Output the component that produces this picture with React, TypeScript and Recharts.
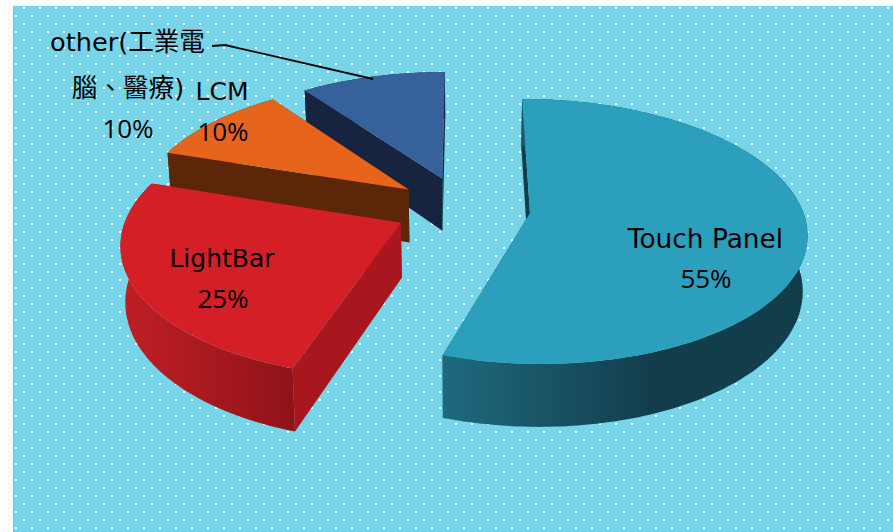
import { PieChart, Pie } from 'recharts';

const sliceNames = ['other(工業電腦、醫療)', 'LCM', 'LightBar', 'Touch Panel'];
const sliceValues = [10, 10, 25, 55];
const topColors = ['#37619a', '#e6641b', '#d51f27', '#2c9fbd'];
const sideColors = ['#16243f', '#5c2709', '#a8161e', '#123e4c'];
const rimFrom = ['#16243f', '#5c2709', '#c01f25', '#1f6a7e'];
const rimTo = ['#16243f', '#5c2709', '#8f1318', '#123e4c'];
const rimRange = [[300, 450], [160, 410], [120, 292], [443, 650]];

const pieData = sliceNames.map((name, i) => ({ name, value: sliceValues[i], index: i }));

// label rows per slice: [text, centre x, baseline y, font size, is percentage]
const labelRows: [string, number, number, number, boolean][][] = [
  [['other(工業電', 127.5, 51, 25.6, false], ['腦、醫療)', 128, 97, 25.6, false], ['10%', 128, 138, 26, true]],
  [['LCM', 222, 100, 25, false], ['10%', 223, 141, 26, true]],
  [['LightBar', 222, 267, 25, false], ['25%', 223, 308, 26, true]],
  [['Touch Panel', 705.5, 248, 26.4, false], ['55%', 706, 288, 26, true]],
];

const WIDTH = 893;
const HEIGHT = 532;
const CX = 462.5;
const CY = 208;
const RADIUS = 272;
const EXPLODE = 68;
const DEPTH = 54;
const HORIZON = 935; // distance from the pie centre up to the vanishing point
const PERSPECTIVE = 0.1375;
const VANISH_X = 465;
const BOTTOM_SHRINK = 0.986;

type Pt = [number, number];

// plane coordinates (x right, y toward the viewer) to screen, top or bottom face
function project(px: number, py: number, cx: number, cy: number, r: number, low: boolean): Pt {
  const s = 1 / (1 - (PERSPECTIVE * py) / r);
  const x = VANISH_X + (cx + px - VANISH_X) * s;
  const y = cy - HORIZON + HORIZON * s;
  if (!low) return [x, y];
  return [VANISH_X + (x - VANISH_X) * BOTTOM_SHRINK, y + DEPTH * s];
}

const toPath = (pts: Pt[]) =>
  'M' + pts.map((p) => p[0].toFixed(1) + ',' + p[1].toFixed(1)).join('L') + 'Z';

function Slice3D(props: any) {
  const { cx, cy, outerRadius: r, startAngle, endAngle, midAngle, payload } = props;
  const i = payload.index;
  const rad = Math.PI / 180;
  const ox = EXPLODE * Math.cos(midAngle * rad);
  const oy = -EXPLODE * Math.sin(midAngle * rad);

  const arc = (low: boolean) => {
    const pts: Pt[] = [];
    const n = Math.ceil(Math.abs(endAngle - startAngle));
    for (let k = 0; k <= n; k++) {
      const a = (startAngle + ((endAngle - startAngle) * k) / n) * rad;
      pts.push(project(ox + r * Math.cos(a), oy - r * Math.sin(a), cx, cy, r, low));
    }
    return pts;
  };
  const topArc = arc(false);
  const lowArc = arc(true);
  const apexTop = project(ox, oy, cx, cy, r, false);
  const apexLow = project(ox, oy, cx, cy, r, true);
  const last = topArc.length - 1;
  const gradId = `rim-${i}`;

  return (
    <g>
      <defs>
        <linearGradient id={gradId} gradientUnits="userSpaceOnUse" x1={rimRange[i][0]} x2={rimRange[i][1]} y1={0} y2={0}>
          <stop offset="0" stopColor={rimFrom[i]} />
          <stop offset="1" stopColor={rimTo[i]} />
        </linearGradient>
      </defs>
      <path d={toPath([apexTop, topArc[0], lowArc[0], apexLow])} fill={sideColors[i]} />
      <path d={toPath([apexTop, topArc[last], lowArc[last], apexLow])} fill={sideColors[i]} />
      <path d={toPath([...topArc, ...[...lowArc].reverse()])} fill={`url(#${gradId})`} />
      <path d={toPath([apexTop, ...topArc])} fill={topColors[i]} />
    </g>
  );
}

function SliceLabel(props: any) {
  const rows = labelRows[props.index];
  return (
    <g>
      {rows.map(([text, x, y, size, isPct]) => (
        <text
          key={text}
          x={x}
          y={y}
          textAnchor="middle"
          fill="#000"
          fontSize={size}
          fontFamily={isPct ? '"Open Sans"' : '"DejaVu Sans", "Noto Sans CJK TC"'}
        >
          {text}
        </text>
      ))}
      {props.index === 0 && (
        <polyline points="212,46 225,45 373,79" fill="none" stroke="#000" strokeWidth={1.8} />
      )}
    </g>
  );
}

export default function App() {
  return (
    <div style={{ position: 'absolute', left: 0, top: 0, width: WIDTH, height: HEIGHT, background: '#fff', overflow: 'hidden' }}>
      <svg width={WIDTH} height={HEIGHT} style={{ position: 'absolute', left: 0, top: 0 }}>
        <defs>
          <pattern id="dots" patternUnits="userSpaceOnUse" width={16} height={16} x={15} y={7}>
            <rect x={0} y={8} width={2} height={2} fill="#fff" />
            <rect x={8} y={0} width={2} height={2} fill="#fff" />
          </pattern>
        </defs>
        <rect x={13} y={6} width={WIDTH - 13} height={HEIGHT - 6} fill="#77d5ea" />
        <rect x={13} y={6} width={WIDTH - 13} height={HEIGHT - 6} fill="url(#dots)" />
      </svg>
      <div style={{ position: 'absolute', left: 0, top: 0 }}>
        <PieChart width={WIDTH} height={HEIGHT} margin={{ top: 0, right: 0, bottom: 0, left: 0 }}>
          <Pie
            data={pieData}
            dataKey="value"
            nameKey="name"
            cx={CX}
            cy={CY}
            innerRadius={0}
            outerRadius={RADIUS}
            startAngle={90}
            endAngle={450}
            stroke="none"
            paddingAngle={0}
            shape={Slice3D}
            label={SliceLabel}
            labelLine={false}
            isAnimationActive={false}
          />
        </PieChart>
      </div>
    </div>
  );
}
